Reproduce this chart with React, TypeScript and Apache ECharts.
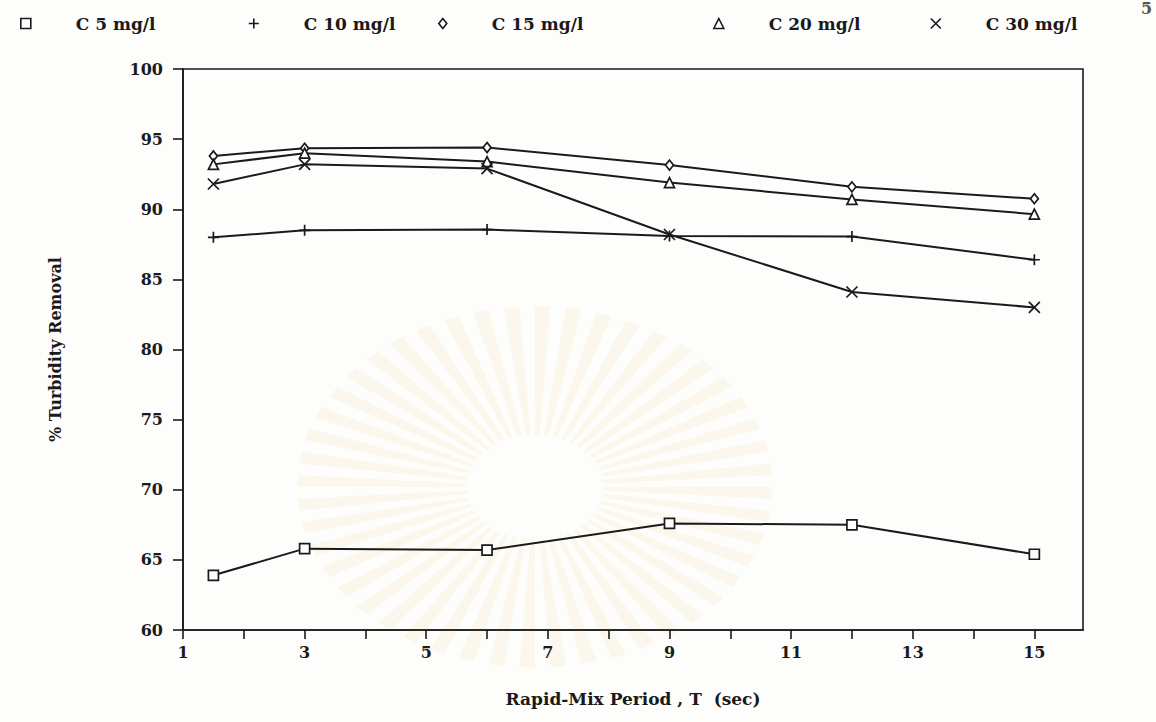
import React, { useEffect, useRef } from "react";
import * as echarts from "echarts";

// Rapid-mix period (sec) at which each run was sampled
const mixPeriods = [1.5, 3, 6, 9, 12, 15];

// % turbidity removal for each alum dose
const c5 = [63.9, 65.8, 65.7, 67.6, 67.5, 65.4];
const c10 = [88.0, 88.5, 88.55, 88.1, 88.05, 86.4];
const c15 = [93.8, 94.35, 94.4, 93.15, 91.6, 90.75];
const c20 = [93.2, 94.0, 93.4, 91.9, 90.7, 89.65];
const c30 = [91.8, 93.2, 92.9, 88.2, 84.1, 83.0];

const seriesNames = ["C 5 mg/l", "C 10 mg/l", "C 15 mg/l", "C 20 mg/l", "C 30 mg/l"];
const seriesValues = [c5, c10, c15, c20, c30];

const FONT = "'DejaVu Serif', 'Liberation Serif', serif";
const INK = "#1a1a1a";

const symbols = [
  "rect",
  "path://M5,0L5,10M0,5L10,5",
  "diamond",
  "triangle",
  "path://M0,0L10,10M10,0L0,10",
];
const symbolSizes: (number | number[])[] = [10, 11, [8, 10], 10, 11];
// where each legend entry's text starts
const legendTextStart = [70, 298, 488, 763, 980];

export default function App() {
  const ref = useRef<HTMLDivElement>(null);

  useEffect(() => {
    document.body.style.margin = "0";
    const chart = echarts.init(ref.current!, undefined, { renderer: "svg" });

    // faint sunburst seal behind the plot
    const rays: any[] = [];
    const n = 48;
    for (let i = 0; i < n; i++) {
      const a0 = (i / n) * Math.PI * 2;
      rays.push({
        type: "sector",
        shape: { cx: 0, cy: 0, r0: 55, r: 190, startAngle: a0, endAngle: a0 + ((Math.PI * 2) / n) * 0.5 },
        style: { fill: "rgba(236, 205, 130, 0.13)" },
        silent: true,
      });
    }

    chart.setOption({
      animation: false,
      backgroundColor: "#fdfdfc",
      graphic: [
        { type: "group", z: -10, x: 535, y: 487, scaleX: 1.25, scaleY: 0.95, children: rays },
        {
          type: "text",
          x: 1141,
          y: 0,
          style: { text: "5", font: `bold 16px ${FONT}`, fill: "#555" },
        },
      ],
      legend: seriesNames.map((name, i) => ({
        data: [name],
        left: legendTextStart[i] - 55,
        top: 10,
        icon: symbols[i],
        itemWidth: i === 2 ? 8 : 10,
        itemHeight: 10,
        itemStyle: { color: "#fff", borderColor: INK, borderWidth: 1.6 },
        lineStyle: { width: 0 },
        textStyle: {
          fontFamily: FONT,
          fontWeight: "bold",
          fontSize: 17,
          color: INK,
          padding: [0, 0, 0, 40],
        },
        selectedMode: false,
      })),
      grid: {
        left: 183,
        right: 73,
        top: 69,
        bottom: 92,
        show: true,
        borderColor: INK,
        borderWidth: 1.6,
        backgroundColor: "transparent",
      },
      xAxis: {
        type: "value",
        min: 1,
        max: 15.8,
        interval: 1,
        name: "Rapid-Mix Period , T  (sec)",
        nameLocation: "middle",
        nameGap: 60,
        nameTextStyle: { fontFamily: FONT, fontWeight: "bold", fontSize: 17, color: INK },
        axisLine: { show: true, lineStyle: { color: INK, width: 1.6 } },
        axisTick: { show: true, inside: false, length: 9, lineStyle: { color: INK, width: 1.6 } },
        axisLabel: {
          margin: 14,
          fontFamily: FONT,
          fontWeight: "bold",
          fontSize: 16,
          color: INK,
          showMaxLabel: false,
          formatter: (v: number) =>
            Math.abs(v - Math.round(v)) < 1e-6 && Math.round(v) % 2 === 1 ? String(Math.round(v)) : "",
        },
        splitLine: { show: false },
      },
      yAxis: {
        type: "value",
        min: 60,
        max: 100,
        interval: 5,
        name: "% Turbidity Removal",
        nameLocation: "middle",
        nameRotate: 90,
        nameGap: 120,
        nameTextStyle: { fontFamily: FONT, fontWeight: "bold", fontSize: 16, color: INK },
        axisLine: { show: true, lineStyle: { color: INK, width: 1.6 } },
        axisTick: { show: true, inside: false, length: 10, lineStyle: { color: INK, width: 1.6 } },
        axisLabel: {
          margin: 20,
          fontFamily: FONT,
          fontWeight: "bold",
          fontSize: 16,
          color: INK,
        },
        splitLine: { show: false },
      },
      series: seriesNames.map((name, i) => ({
        name,
        type: "line",
        data: mixPeriods.map((x, j) => [x, seriesValues[i][j]]),
        symbol: symbols[i],
        symbolSize: symbolSizes[i],
        showAllSymbol: true,
        lineStyle: { color: INK, width: 2 },
        itemStyle: { color: "#fff", borderColor: INK, borderWidth: 1.7 },
        emphasis: { disabled: true },
        z: 3,
      })),
    });

    return () => chart.dispose();
  }, []);

  return <div ref={ref} style={{ width: 1156, height: 722 }} />;
}
